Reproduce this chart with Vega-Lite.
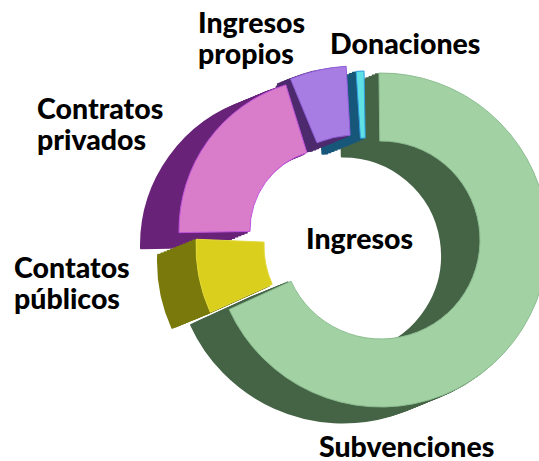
{"$schema":"https://vega.github.io/schema/vega-lite/v6.json","width":539,"height":461,"padding":0,"autosize":{"type":"none"},"background":"white","view":{"stroke":null},
"layer":[
{"data":{"values":[
{"slice":"Subvenciones","start":-0.7,"end":245.4,"inner":99,"outer":167,"cx":377.8,"cy":241.3},{"slice":"Subvenciones","start":-0.7,"end":245.4,"inner":99,"outer":167,"cx":374.7,"cy":242.6},{"slice":"Subvenciones","start":-0.7,"end":245.4,"inner":99,"outer":167,"cx":371.5,"cy":243.9},{"slice":"Subvenciones","start":-0.7,"end":245.4,"inner":99,"outer":167,"cx":368.3,"cy":245.2},{"slice":"Subvenciones","start":-0.7,"end":245.4,"inner":99,"outer":167,"cx":365.2,"cy":246.5},{"slice":"Subvenciones","start":-0.7,"end":245.4,"inner":99,"outer":167,"cx":362,"cy":247.8},{"slice":"Subvenciones","start":-0.7,"end":245.4,"inner":99,"outer":167,"cx":358.8,"cy":249.1},{"slice":"Subvenciones","start":-0.7,"end":245.4,"inner":99,"outer":167,"cx":355.7,"cy":250.4},{"slice":"Subvenciones","start":-0.7,"end":245.4,"inner":99,"outer":167,"cx":352.5,"cy":251.7},{"slice":"Subvenciones","start":-0.7,"end":245.4,"inner":99,"outer":167,"cx":349.3,"cy":253},{"slice":"Subvenciones","start":-0.7,"end":245.4,"inner":99,"outer":167,"cx":346.2,"cy":254.3},{"slice":"Subvenciones","start":-0.7,"end":245.4,"inner":99,"outer":167,"cx":343,"cy":255.5},
{"slice":"Donaciones","start":356.3,"end":359,"inner":102,"outer":169,"cx":363.8,"cy":241.3},{"slice":"Donaciones","start":356.3,"end":359,"inner":102,"outer":169,"cx":360.7,"cy":242.6},{"slice":"Donaciones","start":356.3,"end":359,"inner":102,"outer":169,"cx":357.5,"cy":243.9},{"slice":"Donaciones","start":356.3,"end":359,"inner":102,"outer":169,"cx":354.3,"cy":245.2},{"slice":"Donaciones","start":356.3,"end":359,"inner":102,"outer":169,"cx":351.2,"cy":246.5},{"slice":"Donaciones","start":356.3,"end":359,"inner":102,"outer":169,"cx":348,"cy":247.8},{"slice":"Donaciones","start":356.3,"end":359,"inner":102,"outer":169,"cx":344.8,"cy":249.1},{"slice":"Donaciones","start":356.3,"end":359,"inner":102,"outer":169,"cx":341.7,"cy":250.4},{"slice":"Donaciones","start":356.3,"end":359,"inner":102,"outer":169,"cx":338.5,"cy":251.7},{"slice":"Donaciones","start":356.3,"end":359,"inner":102,"outer":169,"cx":335.3,"cy":253},{"slice":"Donaciones","start":356.3,"end":359,"inner":102,"outer":169,"cx":332.2,"cy":254.3},{"slice":"Donaciones","start":356.3,"end":359,"inner":102,"outer":169,"cx":329,"cy":255.5},
{"slice":"Ingresos propios","start":337.5,"end":356.7,"inner":102,"outer":171,"cx":352.8,"cy":238.3},{"slice":"Ingresos propios","start":337.5,"end":356.7,"inner":102,"outer":171,"cx":349.7,"cy":239.6},{"slice":"Ingresos propios","start":337.5,"end":356.7,"inner":102,"outer":171,"cx":346.5,"cy":240.9},{"slice":"Ingresos propios","start":337.5,"end":356.7,"inner":102,"outer":171,"cx":343.3,"cy":242.2},{"slice":"Ingresos propios","start":346,"end":356.7,"inner":102,"outer":171,"cx":340.2,"cy":243.5},{"slice":"Ingresos propios","start":346,"end":356.7,"inner":102,"outer":171,"cx":337,"cy":244.8},{"slice":"Ingresos propios","start":346,"end":356.7,"inner":102,"outer":171,"cx":333.8,"cy":246.1},{"slice":"Ingresos propios","start":346,"end":356.7,"inner":102,"outer":171,"cx":330.7,"cy":247.4},{"slice":"Ingresos propios","start":346,"end":356.7,"inner":102,"outer":171,"cx":327.5,"cy":248.7},{"slice":"Ingresos propios","start":346,"end":356.7,"inner":102,"outer":171,"cx":324.3,"cy":250},{"slice":"Ingresos propios","start":346,"end":356.7,"inner":102,"outer":171,"cx":321.2,"cy":251.3},{"slice":"Ingresos propios","start":346,"end":356.7,"inner":102,"outer":171,"cx":318,"cy":252.5},
{"slice":"Contratos privados","start":269,"end":342.7,"inner":81,"outer":152,"cx":327.8,"cy":231.3},{"slice":"Contratos privados","start":269,"end":342.7,"inner":81,"outer":152,"cx":324.7,"cy":232.6},{"slice":"Contratos privados","start":269,"end":342.7,"inner":81,"outer":152,"cx":321.5,"cy":233.9},{"slice":"Contratos privados","start":269,"end":342.7,"inner":81,"outer":152,"cx":318.3,"cy":235.2},{"slice":"Contratos privados","start":269,"end":342.7,"inner":81,"outer":152,"cx":315.2,"cy":236.5},{"slice":"Contratos privados","start":269,"end":342.7,"inner":81,"outer":152,"cx":312,"cy":237.8},{"slice":"Contratos privados","start":269,"end":342.7,"inner":81,"outer":152,"cx":308.8,"cy":239.1},{"slice":"Contratos privados","start":269,"end":342.7,"inner":81,"outer":152,"cx":305.7,"cy":240.4},{"slice":"Contratos privados","start":269,"end":342.7,"inner":81,"outer":152,"cx":302.5,"cy":241.7},{"slice":"Contratos privados","start":269,"end":342.7,"inner":81,"outer":152,"cx":299.3,"cy":243},{"slice":"Contratos privados","start":269,"end":342.7,"inner":81,"outer":152,"cx":296.2,"cy":244.3},{"slice":"Contratos privados","start":269,"end":342.7,"inner":81,"outer":152,"cx":293,"cy":245.5},
{"slice":"Contatos públicos","start":245.7,"end":272.4,"inner":93,"outer":161,"cx":353.8,"cy":247.3},{"slice":"Contatos públicos","start":245.7,"end":272.4,"inner":93,"outer":161,"cx":350.7,"cy":248.6},{"slice":"Contatos públicos","start":245.7,"end":272.4,"inner":93,"outer":161,"cx":347.5,"cy":249.9},{"slice":"Contatos públicos","start":245.7,"end":272.4,"inner":93,"outer":161,"cx":344.3,"cy":251.2},{"slice":"Contatos públicos","start":245.7,"end":272.4,"inner":93,"outer":161,"cx":341.2,"cy":252.5},{"slice":"Contatos públicos","start":245.7,"end":272.4,"inner":93,"outer":161,"cx":338,"cy":253.8},{"slice":"Contatos públicos","start":245.7,"end":272.4,"inner":93,"outer":161,"cx":334.8,"cy":255.1},{"slice":"Contatos públicos","start":245.7,"end":272.4,"inner":93,"outer":161,"cx":331.7,"cy":256.4},{"slice":"Contatos públicos","start":245.7,"end":272.4,"inner":93,"outer":161,"cx":328.5,"cy":257.7},{"slice":"Contatos públicos","start":245.7,"end":272.4,"inner":93,"outer":161,"cx":325.3,"cy":259},{"slice":"Contatos públicos","start":245.7,"end":272.4,"inner":93,"outer":161,"cx":322.2,"cy":260.3},{"slice":"Contatos públicos","start":245.7,"end":272.4,"inner":93,"outer":161,"cx":319,"cy":261.5}
]},
"mark":{"type":"arc","strokeWidth":2,"strokeJoin":"round"},
"encoding":{
"x":{"field":"cx","type":"quantitative","scale":{"domain":[0,539],"range":[0,539]},"axis":null},
"y":{"field":"cy","type":"quantitative","scale":{"domain":[0,461],"range":[0,461]},"axis":null},
"theta":{"field":"start","type":"quantitative","scale":{"domain":[0,360],"range":[0,6.28319]}},
"theta2":{"field":"end"},
"radius":{"field":"outer","type":"quantitative","scale":{"domain":[0,200],"range":[0,200]}},
"radius2":{"field":"inner"},
"fill":{"field":"slice","type":"nominal","legend":null,"scale":{"domain":["Subvenciones","Donaciones","Ingresos propios","Contratos privados","Contatos públicos"],"range":["#456446","#17577a","#4c2a6d","#682379","#7a7a0c"]}},
"stroke":{"field":"slice","type":"nominal","legend":null,"scale":{"domain":["Subvenciones","Donaciones","Ingresos propios","Contratos privados","Contatos públicos"],"range":["#456446","#17577a","#4c2a6d","#682379","#7a7a0c"]}}
}},
{"data":{"values":[
{"slice":"Subvenciones","start":-0.7,"end":245.4,"inner":99,"outer":167,"cx":381,"cy":240},
{"slice":"Donaciones","start":356.3,"end":359,"inner":102,"outer":169,"cx":367,"cy":240},
{"slice":"Ingresos propios","start":337.5,"end":356.7,"inner":102,"outer":171,"cx":356,"cy":237},
{"slice":"Contratos privados","start":269,"end":342.7,"inner":81,"outer":152,"cx":331,"cy":230},
{"slice":"Contatos públicos","start":245.7,"end":272.4,"inner":93,"outer":161,"cx":357,"cy":246}
]},
"mark":{"type":"arc","strokeWidth":1},
"encoding":{
"x":{"field":"cx","type":"quantitative","scale":{"domain":[0,539],"range":[0,539]},"axis":null},
"y":{"field":"cy","type":"quantitative","scale":{"domain":[0,461],"range":[0,461]},"axis":null},
"theta":{"field":"start","type":"quantitative","scale":{"domain":[0,360],"range":[0,6.28319]}},
"theta2":{"field":"end"},
"radius":{"field":"outer","type":"quantitative","scale":{"domain":[0,200],"range":[0,200]}},
"radius2":{"field":"inner"},
"fill":{"field":"slice","type":"nominal","legend":null,"scale":{"domain":["Subvenciones","Donaciones","Ingresos propios","Contratos privados","Contatos públicos"],"range":["#a2d2a4","#5fe0e5","#a87de3","#d97cc9","#dacf1d"]}},
"stroke":{"field":"slice","type":"nominal","legend":null,"scale":{"domain":["Subvenciones","Donaciones","Ingresos propios","Contratos privados","Contatos públicos"],"range":["#8cbd90","#2f9fe0","#9260dc","#c052dc","#e3da3c"]}}
}},
{"data":{"values":[
{"label":"Ingresos","px":198,"py":24},{"label":"propios","px":198,"py":55},
{"label":"Donaciones","px":330,"py":45},
{"label":"Contratos","px":37,"py":110},{"label":"privados","px":37,"py":141},
{"label":"Contatos","px":14,"py":269},{"label":"públicos","px":14,"py":300},
{"label":"Ingresos","px":306,"py":240},
{"label":"Subvenciones","px":319,"py":448}
]},
"mark":{"type":"text","font":"Lato","fontWeight":900,"fontSize":28.5,"align":"left","baseline":"middle","color":"black"},
"encoding":{
"x":{"field":"px","type":"quantitative","scale":{"domain":[0,539],"range":[0,539]},"axis":null},
"y":{"field":"py","type":"quantitative","scale":{"domain":[0,461],"range":[0,461]},"axis":null},
"text":{"field":"label","type":"nominal"}
}}
],
"resolve":{"scale":{"fill":"independent","stroke":"independent"}}
}
